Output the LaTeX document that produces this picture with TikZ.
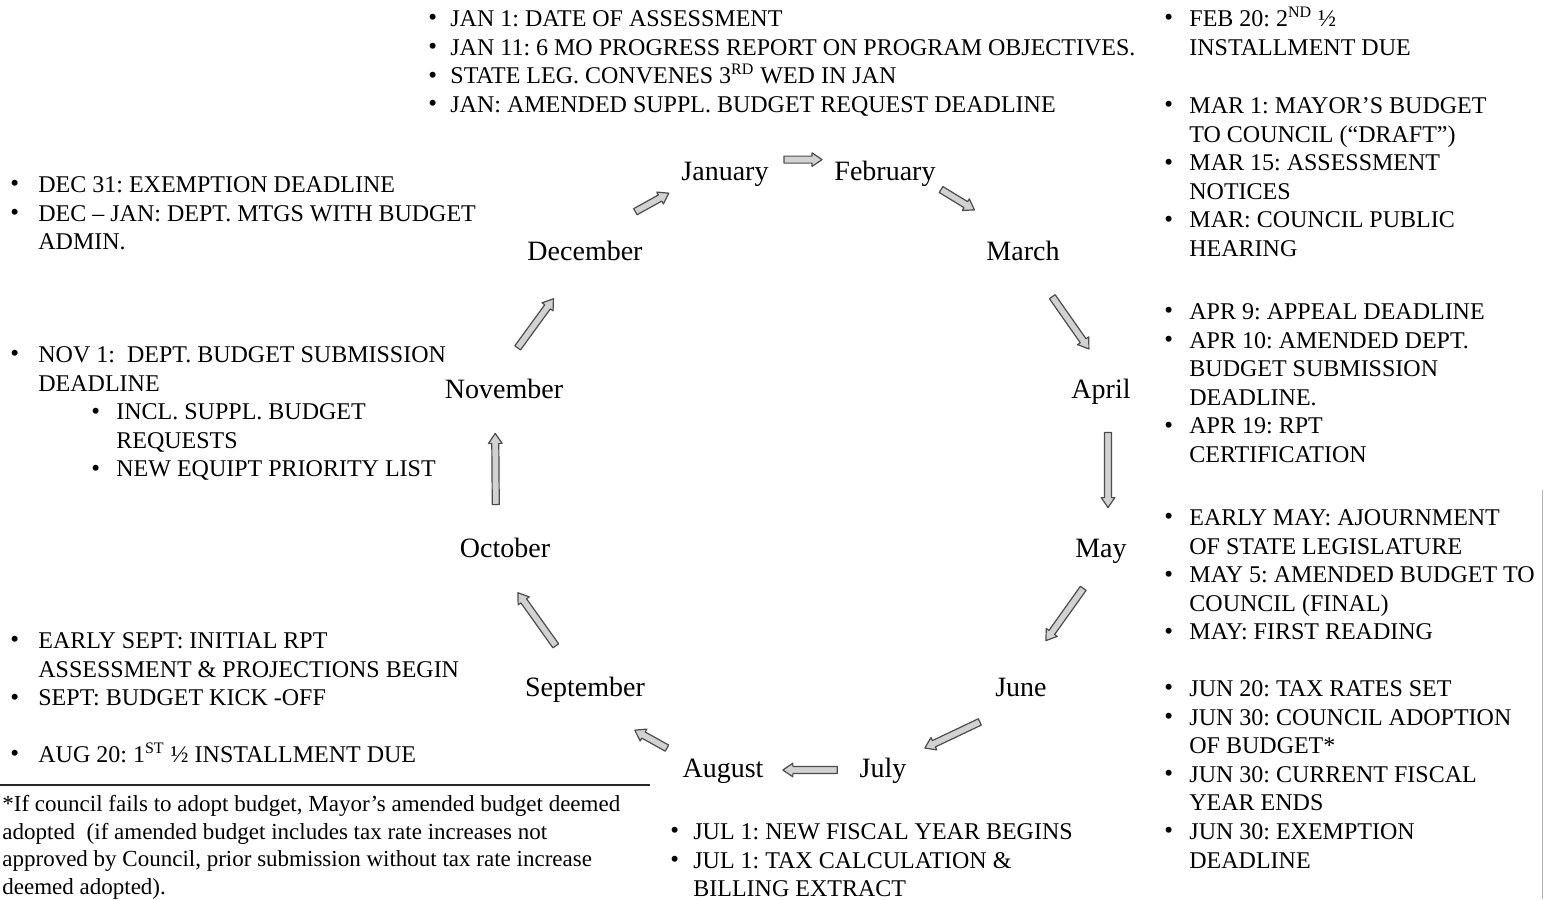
\documentclass[tikz,border=0pt]{standalone}
\usepackage{fontspec}
\setmainfont{Liberation Serif}
\usetikzlibrary{calc}
\frenchspacing
\newcommand\bu{\raisebox{0.3pt}{\fontsize{12.5}{12.5}\selectfont\textbullet}}
\begin{document}
\begin{tikzpicture}[x=0.5pt,y=-0.5pt,
  lst/.style={anchor=north west, inner sep=0pt, font=\fontsize{12}{14.3}\selectfont},
  mon/.style={inner sep=0pt, font=\fontsize{14}{16}\selectfont, text height=10pt, text depth=3pt},
  blk/.style={fill=gray!35, draw=black!70, line width=0.6pt, line join=round},
  barrow/.style 2 args={to path={
    ($(\tikztostart)!#1!(\tikztotarget)$) coordinate (bS)
    ($(\tikztotarget)!#2!(\tikztostart)$) coordinate (bE)
    ($(bE)!5pt!(bS)$) coordinate (bH)
    ($(bS)!1.75pt!90:(bE)$) -- ($(bH)!1.75pt!90:(bE)$) -- ($(bH)!3.4pt!90:(bE)$) -- (bE)
    -- ($(bH)!3.4pt!-90:(bE)$) -- ($(bH)!1.75pt!-90:(bE)$) -- ($(bS)!1.75pt!-90:(bE)$) -- cycle}}
]
\fill[white] (0,0) rectangle (1545,899);
\useasboundingbox (0,0) rectangle (1545,899);

% months
\node[mon] (jan) at (725,173) {January};
\node[mon] (feb) at (885,173) {February};
\node[mon] (mar) at (1023,253) {March};
\node[mon] (apr) at (1101,391) {April};
\node[mon] (may) at (1101,550) {May};
\node[mon] (jun) at (1021,689) {June};
\node[mon] (jul) at (883,770) {July};
\node[mon] (aug) at (723,770) {August};
\node[mon] (sep) at (585,689) {September};
\node[mon] (oct) at (505,550) {October};
\node[mon] (nov) at (504,391) {November};
\node[mon] (dec) at (585,253) {December};

\coordinate (marS) at ([xshift=4pt]mar.south);
\coordinate (aprN) at ([xshift=4pt]apr.north);
\coordinate (aprS) at ([xshift=3.5pt]apr.south);
\coordinate (mayN) at ([xshift=3.5pt]may.north);
\coordinate (sepN) at ([xshift=-4pt]sep.north);
\coordinate (octS) at ([xshift=-4pt]oct.south);
\coordinate (octN) at ([xshift=-4.5pt]oct.north);
\coordinate (novS) at ([xshift=-4.5pt]nov.south);
\coordinate (novN) at ([xshift=-4pt]nov.north);
\coordinate (decS) at ([xshift=-4pt]dec.south);

\draw[blk] (jan.north east) to[barrow={7.5pt}{6pt}] (feb.north west);
\draw[blk] (feb.south east) to[barrow={3pt}{28.5pt}] (mar.north);
\draw[blk] (marS) to[barrow={18.5pt}{17.5pt}] (aprN);
\draw[blk] (aprS) to[barrow={14pt}{14.5pt}] (mayN);
\draw[blk] (may.south) to[barrow={15.3pt}{21.5pt}] (jun.north);
\draw[blk] (jun.south) to[barrow={22.8pt}{10pt}] (jul.north east);
\draw[blk] (jul.west) to[barrow={11pt}{9.5pt}] (aug.east);
\draw[blk] (aug.north west) to[barrow={8.7pt}{28.5pt}] (sep.south);
\draw[blk] (sepN) to[barrow={18.3pt}{18pt}] (octS);
\draw[blk] (octN) to[barrow={16pt}{14.5pt}] (novS);
\draw[blk] (novN) to[barrow={18.4pt}{20pt}] (decS);
\draw[blk] (dec.north) to[barrow={28.8pt}{7pt}] (jan.south west);

% top list
\node[lst] (top) at (428,6) {\begin{tabular}{@{}p{11pt}@{}l@{}}
\bu & JAN 1: DATE OF ASSESSMENT\\
\bu & JAN 11: 6 MO PROGRESS REPORT ON PROGRAM OBJECTIVES.\\
\bu & STATE LEG. CONVENES 3\textsuperscript{RD} WED IN JAN\\
\bu & JAN: AMENDED SUPPL. BUDGET REQUEST DEADLINE
\end{tabular}};

% right column
\node[lst] (r1) at (1164,6) {\begin{tabular}{@{}p{12.5pt}@{}l@{}}
\bu & FEB 20: 2\textsuperscript{ND} ½\\
 & INSTALLMENT DUE
\end{tabular}};
\node[lst] (r2) at (1164,93) {\begin{tabular}{@{}p{12.5pt}@{}l@{}}
\bu & MAR 1: MAYOR’S BUDGET\\
 & TO COUNCIL (“DRAFT”)\\
\bu & MAR 15: ASSESSMENT\\
 & NOTICES\\
\bu & MAR: COUNCIL PUBLIC\\
 & HEARING
\end{tabular}};
\node[lst] (r3) at (1164,299) {\begin{tabular}{@{}p{12.5pt}@{}l@{}}
\bu & APR 9: APPEAL DEADLINE\\
\bu & APR 10: AMENDED DEPT.\\
 & BUDGET SUBMISSION\\
 & DEADLINE.\\
\bu & APR 19: RPT\\
 & CERTIFICATION
\end{tabular}};
\node[lst] (r4) at (1164,505) {\begin{tabular}{@{}p{12.5pt}@{}l@{}}
\bu & EARLY MAY: AJOURNMENT\\
 & OF STATE LEGISLATURE\\
\bu & MAY 5: AMENDED BUDGET TO\\
 & COUNCIL (FINAL)\\
\bu & MAY: FIRST READING
\end{tabular}};
\node[lst] (r5) at (1164,676) {\begin{tabular}{@{}p{12.5pt}@{}l@{}}
\bu & JUN 20: TAX RATES SET\\
\bu & JUN 30: COUNCIL ADOPTION\\
 & OF BUDGET*\\
\bu & JUN 30: CURRENT FISCAL\\
 & YEAR ENDS\\
\bu & JUN 30: EXEMPTION\\
 & DEADLINE
\end{tabular}};

% bottom centre
\node[lst] (b1) at (670,819) {\begin{tabular}{@{}p{11.5pt}@{}l@{}}
\bu & JUL 1: NEW FISCAL YEAR BEGINS\\
\bu & JUL 1: TAX CALCULATION \&\\
 & BILLING EXTRACT
\end{tabular}};

% left column
\node[lst] (l1) at (10,172) {\begin{tabular}{@{}p{14pt}@{}l@{}}
\bu & DEC 31: EXEMPTION DEADLINE\\
\bu & DEC – JAN: DEPT. MTGS WITH BUDGET\\
 & ADMIN.
\end{tabular}};
\node[lst] (l2) at (10,342) {\begin{tabular}{@{}p{14pt}@{}p{26.5pt}@{}p{12.5pt}@{}l@{}}
\bu & \multicolumn{3}{@{}l@{}}{NOV 1:\ \ DEPT. BUDGET SUBMISSION}\\
 & \multicolumn{3}{@{}l@{}}{DEADLINE}\\
 & & \bu & INCL. SUPPL. BUDGET\\
 & & & REQUESTS\\
 & & \bu & NEW EQUIPT PRIORITY LIST
\end{tabular}};
\node[lst] (l3) at (10,628) {\begin{tabular}{@{}p{14pt}@{}l@{}}
\bu & EARLY SEPT: INITIAL RPT\\
 & ASSESSMENT \& PROJECTIONS BEGIN\\
\bu & SEPT: BUDGET KICK -OFF
\end{tabular}};
\node[lst] (l4) at (10,742) {\begin{tabular}{@{}p{14pt}@{}l@{}}
\bu & AUG 20: 1\textsuperscript{ST} ½ INSTALLMENT DUE
\end{tabular}};

% footnote
\draw[line width=1.1pt, black!85] (0,785) -- (650,785);
\node[anchor=north west, inner sep=0pt, font=\fontsize{11.5}{13.75}\selectfont] (fn) at (2,792) {\begin{tabular}{@{}l@{}}
*If council fails to adopt budget, Mayor’s amended budget deemed\\
adopted\ \ (if amended budget includes tax rate increases not\\
approved by Council, prior submission without tax rate increase\\
deemed adopted).
\end{tabular}};

% scan edge
\draw[gray!60, line width=0.5pt] (1542,490) -- (1542,899);
\end{tikzpicture}
\end{document}
